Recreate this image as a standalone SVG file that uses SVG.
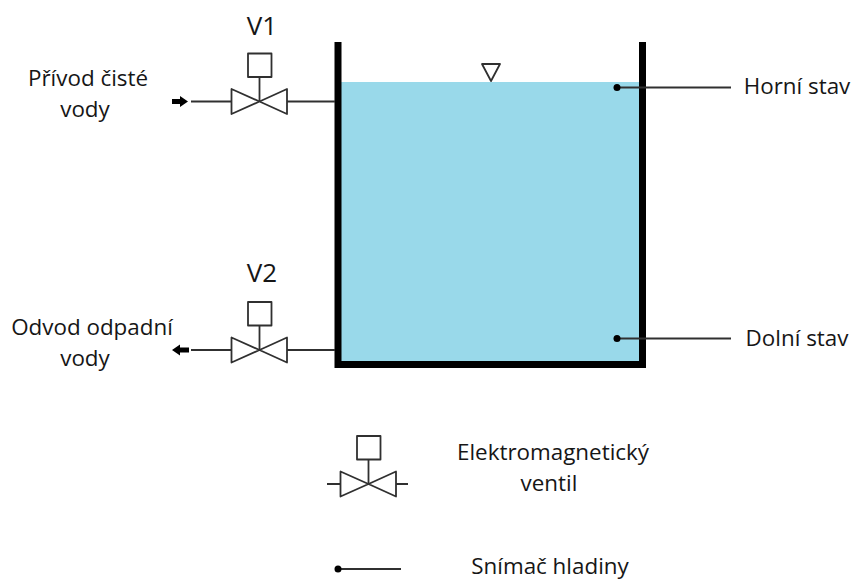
<svg xmlns="http://www.w3.org/2000/svg" width="851" height="579" viewBox="0 0 851 579">
<style>
text{font-family:"Open Sans","Noto Sans",sans-serif;font-size:22.400px;fill:#161616;text-anchor:middle}
.big{font-size:26px}
.l{fill:none;stroke:#303030;stroke-width:1.8}
.v{fill:#fff;stroke:#303030;stroke-width:1.8;stroke-linejoin:round}
</style>
<defs>
<g id="valve">
<rect class="v" x="-11" y="-48" width="23.500" height="23.500"/>
<path class="l" d="M0.500-24.500V0"/>
<path class="v" d="M0.500 0L-27.500-12.500V12.500ZM0.500 0L28-12.500V12.500Z"/>
</g>
</defs>
<rect width="851" height="579" fill="#fff"/>
<g id="tank">
<rect x="341" y="82" width="298.500" height="279" fill="#99d9ea"/>
<path d="M338 42V364.500H642.500V42" fill="none" stroke="#000" stroke-width="7"/>
<path class="v" d="M482 64H500L491 81Z" style="fill:none"/>
</g>
<g id="connectors">
<path class="l" d="M191 101.500H232M287 101.500H335M191 350H232M287 350H335"/>
<path class="l" d="M617 87.500H731M617 338.500H731M338 569H401M327 484H340.500M396 484H408"/>
<path d="M172 99H180V96L188 101.500L180 107V104H172Z" fill="#000"/>
<path d="M189 347.500H180V344.500L172 350L180 355.500V352.500H189Z" fill="#000"/>
<circle cx="617" cy="87.500" r="3.500" fill="#000"/>
<circle cx="617" cy="338.500" r="3.500" fill="#000"/>
<circle cx="338" cy="569" r="3.500" fill="#000"/>
</g>
<g id="v1"><use href="#valve" x="259" y="101.500"/><text class="big" x="262" y="35">V1</text></g>
<g id="v2"><use href="#valve" x="259" y="350"/><text class="big" x="262" y="282">V2</text></g>
<g id="legend-valve"><use href="#valve" x="368" y="484"/></g>
<g id="labels">
<text x="88" y="85.500">Přívod čisté</text>
<text x="85" y="117">vody</text>
<text x="92" y="334.500">Odvod odpadní</text>
<text x="85" y="366">vody</text>
<text x="797" y="94">Horní stav</text>
<text x="797" y="346">Dolní stav</text>
<text x="553" y="459.500">Elektromagnetický</text>
<text x="549" y="491">ventil</text>
<text x="550" y="573.500">Snímač hladiny</text>
</g>
</svg>
